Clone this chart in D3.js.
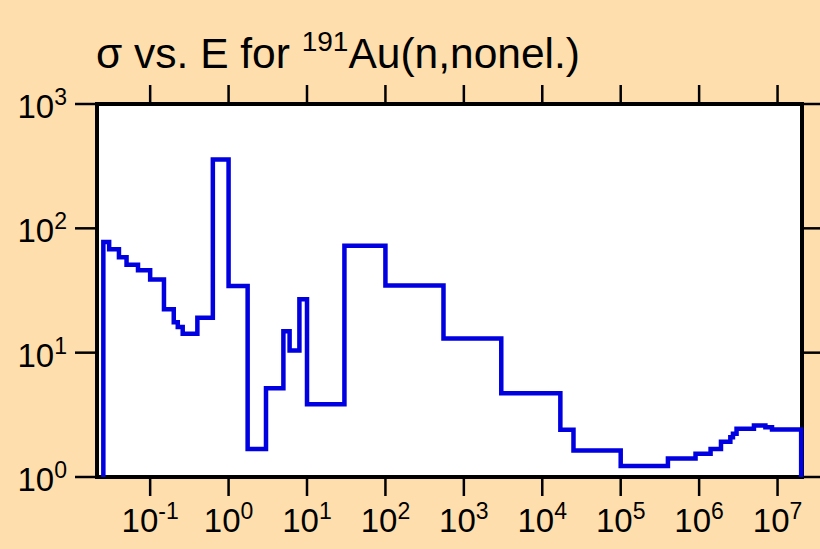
<!DOCTYPE html>
<html>
<head>
<meta charset="utf-8">
<script src="https://cdn.jsdelivr.net/npm/d3@7/dist/d3.min.js"></script>
<style>
  html, body { margin: 0; padding: 0; background: #ffdead; }
  svg { display: block; }
  text { font-family: "Liberation Sans", Arial, Helvetica, sans-serif; fill: #000; }
</style>
</head>
<body>
<svg id="chart" width="820" height="549"></svg>
<script>
// Group-averaged non-elastic cross section of Au-191 (barns) vs. neutron energy (eV)
const binEdges = [0.0253, 0.03, 0.04, 0.05, 0.07, 0.1, 0.15, 0.2, 0.225, 0.26, 0.4, 0.63, 1.0,
  1.75, 3, 5, 6, 8, 10, 30, 100, 550, 3000, 17000, 25000, 1e5, 4e5, 9e5, 1.4e6, 1.9e6,
  2.5e6, 2.7e6, 3e6, 5e6, 7e6, 8.5e6, 2e7];
const sigmaValues = [77.6, 68, 58.6, 51, 46, 38.8, 22.3, 17.6, 16.1, 14.2, 19.1, 358, 34.4,
  1.68, 5.18, 14.9, 10.4, 26.9, 3.85, 72.5, 34.7, 13.0, 4.72, 2.40, 1.63, 1.225, 1.41, 1.54,
  1.68, 1.92, 2.09, 2.23, 2.44, 2.60, 2.51, 2.41];
const xTickValues = [1e-1, 1e0, 1e1, 1e2, 1e3, 1e4, 1e5, 1e6, 1e7];
const xTickExponents = ["-1", "0", "1", "2", "3", "4", "5", "6", "7"];
const yTickValues = [1e0, 1e1, 1e2, 1e3];
const yTickExponents = ["0", "1", "2", "3"];

const svg = d3.select("#chart");
const plot = { left: 97, right: 802, top: 104, bottom: 477 };

const x = d3.scaleLog().domain([0.021, 2.05e7]).range([plot.left, plot.right]);
const y = d3.scaleLog().domain([1, 1000]).range([plot.bottom, plot.top]);

// Title with superscripted mass number
const title = svg.append("text")
  .attr("x", 96).attr("y", 68)
  .attr("font-size", 42.5);
title.append("tspan").text("σ vs. E for ");
title.append("tspan").attr("font-size", 28).attr("dy", -17).text("191");
title.append("tspan").attr("dy", 17).text("Au(n,nonel.)");

// Plot background
svg.append("rect")
  .attr("x", plot.left).attr("y", plot.top)
  .attr("width", plot.right - plot.left).attr("height", plot.bottom - plot.top)
  .attr("fill", "#fff");

// Decade ticks on all four sides, pointing outward
const tickLen = 19;
const tickStyle = sel => sel.attr("stroke", "#000").attr("stroke-width", 2.5);

svg.append("g").selectAll("line").data(xTickValues).join("line")
  .attr("x1", d => x(d)).attr("x2", d => x(d))
  .attr("y1", plot.bottom).attr("y2", plot.bottom + tickLen).call(tickStyle);
svg.append("g").selectAll("line").data(xTickValues).join("line")
  .attr("x1", d => x(d)).attr("x2", d => x(d))
  .attr("y1", plot.top).attr("y2", plot.top - tickLen).call(tickStyle);
svg.append("g").selectAll("line").data(yTickValues).join("line")
  .attr("x1", plot.left - 22).attr("x2", plot.left)
  .attr("y1", d => y(d)).attr("y2", d => y(d)).call(tickStyle);
svg.append("g").selectAll("line").data(yTickValues).join("line")
  .attr("x1", plot.right).attr("x2", 820)
  .attr("y1", d => y(d)).attr("y2", d => y(d)).call(tickStyle);

// Tick labels as powers of ten
const xLabels = svg.append("g").selectAll("text").data(xTickValues).join("text")
  .attr("x", d => x(d)).attr("y", 532)
  .attr("text-anchor", "middle").attr("font-size", 33);
xLabels.append("tspan").text("10");
xLabels.append("tspan").attr("font-size", 23).attr("dy", -13)
  .text((d, i) => xTickExponents[i]);

const yLabels = svg.append("g").selectAll("text").data(yTickValues).join("text")
  .attr("x", 67).attr("y", d => y(d) + 14)
  .attr("text-anchor", "end").attr("font-size", 33);
yLabels.append("tspan").text("10");
yLabels.append("tspan").attr("font-size", 23).attr("dy", -13)
  .text((d, i) => yTickExponents[i]);

// Frame
svg.append("rect")
  .attr("x", plot.left).attr("y", plot.top)
  .attr("width", plot.right - plot.left).attr("height", plot.bottom - plot.top)
  .attr("fill", "none").attr("stroke", "#000").attr("stroke-width", 4);

// Step histogram of the cross section, closed to the bottom axis at both ends
const pts = [[binEdges[0], 1]];
sigmaValues.forEach((v, i) => {
  pts.push([binEdges[i], v]);
  pts.push([binEdges[i + 1], v]);
});
pts.push([binEdges[binEdges.length - 1], 1]);

svg.append("path")
  .datum(pts)
  .attr("fill", "none")
  .attr("stroke", "#0000e0")
  .attr("stroke-width", 4.5)
  .attr("stroke-linejoin", "miter")
  .attr("d", d3.line().x(d => x(d[0])).y(d => y(d[1])));
</script>
</body>
</html>
